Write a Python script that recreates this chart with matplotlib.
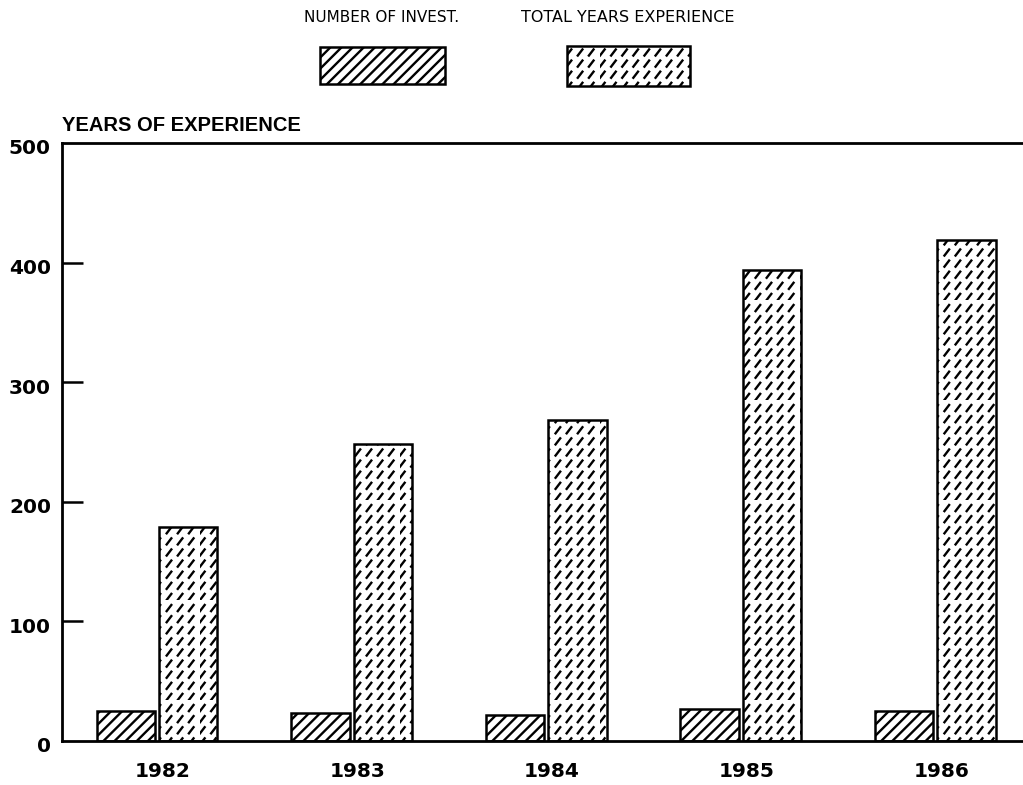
import numpy as np
import matplotlib
matplotlib.use("Agg")
import matplotlib.pyplot as plt
import matplotlib.hatch as mhatch
import matplotlib.transforms as mtrans
from matplotlib.path import Path
from matplotlib.patches import Rectangle

# data
years = ["1982", "1983", "1984", "1985", "1986"]
num_invest = [25, 23, 22, 27, 25]
total_years = [179, 248, 268, 394, 419]
y_ticks = [0, 100, 200, 300, 400, 500]


class DashHatch(mhatch.HatchPatternBase):
    # short slanted dashes on a grid, used for '*'
    def __init__(self, hatch, density):
        self.n = 9 * hatch.count('*')
        self.num_vertices = 2 * self.n * self.n

    def set_vertices_and_codes(self, vertices, codes):
        n = self.n
        step = 1.0 / n
        k = 0
        for i in range(n):
            for j in range(n):
                x0 = i * step
                y0 = j * step
                vertices[k] = (x0, y0)
                vertices[k + 1] = (x0 + 0.42 * step, y0 + 0.55 * step)
                codes[k] = Path.MOVETO
                codes[k + 1] = Path.LINETO
                k += 2


mhatch._hatch_types = [h for h in mhatch._hatch_types if h is not mhatch.Stars]
mhatch._hatch_types.append(DashHatch)

plt.rcParams['font.family'] = ['DejaVu Sans']
plt.rcParams['hatch.linewidth'] = 1.7
plt.rcParams['hatch.color'] = 'black'

fig = plt.figure(figsize=(10.23, 7.85), dpi=100)
ax = fig.add_axes([62 / 1023, 1 - 741 / 785, 1 - 62 / 1023, (741 - 143) / 785])

x = np.arange(len(years))
w = 0.30
ax.bar(x - 0.16, num_invest, w, facecolor='white', edgecolor='black',
       linewidth=1.8, hatch='///')
ax.bar(x + 0.16, total_years, w, facecolor='white', edgecolor='black',
       linewidth=1.8, hatch='*')

ax.set_xlim(-0.488, 4.45)
ax.set_ylim(0, 500)
ax.spines['right'].set_visible(False)
for s in ['left', 'bottom', 'top']:
    ax.spines[s].set_linewidth(2)

ax.set_yticks(y_ticks)
ax.set_yticklabels([str(v) for v in y_ticks], fontsize=14.5, fontweight='bold')
ax.tick_params(axis='y', direction='in', length=15, width=1.8, pad=8)
for t in ax.yaxis.get_major_ticks():
    if t.get_loc() in (0, 500):
        t.tick1line.set_visible(False)
# labels sit a little below their ticks in the original
shift = mtrans.ScaledTranslation(0, -4 / 100, fig.dpi_scale_trans)
for lab in ax.get_yticklabels():
    lab.set_transform(lab.get_transform() + shift)

ax.set_xticks(x + 0.03)
ax.set_xticklabels(years, fontsize=14.5, fontweight='bold')
ax.tick_params(axis='x', length=0, pad=15)

fig.text(62 / 1023, 1 - 131 / 785, "YEARS OF EXPERIENCE", fontsize=14.5,
         fontweight='bold', ha='left', va='baseline',
         family='Liberation Sans')

# legend at the top
fig.text(382 / 1023, 1 - 18 / 785, "NUMBER OF INVEST.", fontsize=11,
         ha='center', va='center')
fig.text(628 / 1023, 1 - 18 / 785, "TOTAL YEARS EXPERIENCE", fontsize=11.5,
         ha='center', va='center')
fig.add_artist(Rectangle((320 / 1023, 1 - 84 / 785), 125 / 1023, 37 / 785,
                         transform=fig.transFigure, facecolor='white',
                         edgecolor='black', linewidth=1.8, hatch='///'))
fig.add_artist(Rectangle((567 / 1023, 1 - 86 / 785), 123 / 1023, 40 / 785,
                         transform=fig.transFigure, facecolor='white',
                         edgecolor='black', linewidth=1.8, hatch='*'))

fig.savefig("out.png", dpi=100)
